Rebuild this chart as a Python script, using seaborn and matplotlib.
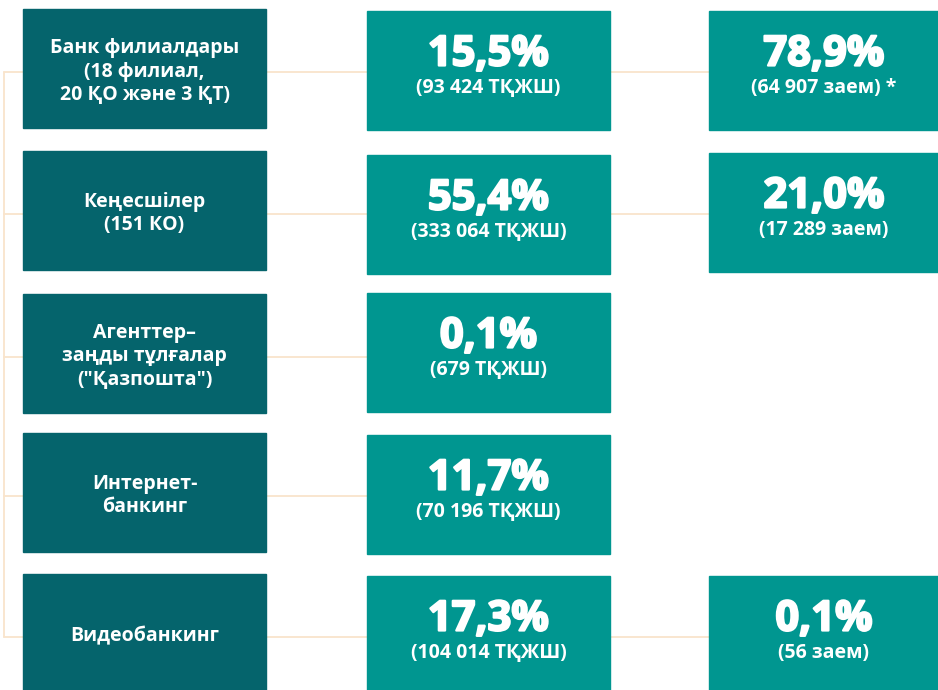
import matplotlib.pyplot as plt
import seaborn as sns
from matplotlib.patches import Rectangle
import matplotlib.patheffects as pe

# data
channels = [
    'Банк филиалдары\n(18 филиал,\n20 ҚО және 3 ҚТ)',
    'Кеңесшілер\n(151 КО)',
    'Агенттер–\nзаңды тұлғалар\n("Қазпошта")',
    'Интернет-\nбанкинг',
    'Видеобанкинг',
]
client_share = [15.5, 55.4, 0.1, 11.7, 17.3]
clients = [93424, 333064, 679, 70196, 104014]
loan_share = [78.9, 21.0, None, None, 0.1]
loans = [64907, 17289, None, None, 56]
loan_notes = [' *', '', '', '', '']

# layout (pixels)
left_top = [9, 151, 294, 433, 574]
mid_top = [11, 155, 293, 435, 576]
right_top = [11, 153, None, None, 576]
box_h = 119
left_x, mid_x, right_x = 23, 367, 709
box_w, right_w = 243, 232

dark = '#05646c'
teal = '#009690'
line_c = '#f9e4cc'

sns.set_style('white')
plt.rcParams['font.family'] = ['Open Sans', 'DejaVu Sans']

fig = plt.figure(figsize=(9.38, 6.9), dpi=100)
ax = fig.add_axes([0, 0, 1, 1])
ax.set_xlim(0, 938)
ax.set_ylim(690, 0)
ax.axis('off')

heavy = [pe.withStroke(linewidth=1.6, foreground='white')]
big = dict(color='white', fontsize=30, fontweight='bold', ha='center', va='center',
           zorder=3, path_effects=heavy)
small = dict(color='white', fontsize=14, fontweight='bold', ha='center', va='center', zorder=3)


def fmt_pct(v):
    return f'{v:.1f}%'.replace('.', ',')


def fmt_num(n):
    return f'{n:,}'.replace(',', ' ')


# left bracket connecting all channels
centers = [t + box_h / 2 for t in left_top]
ax.plot([3.5, 3.5], [centers[0] + 3, centers[-1] + 3], color=line_c, lw=1.3, zorder=1)

for i, label in enumerate(channels):
    cy = centers[i] + 3
    ax.plot([3.5, left_x], [cy, cy], color=line_c, lw=1.3, zorder=1)
    ax.plot([left_x + box_w, mid_x], [cy, cy], color=line_c, lw=1.3, zorder=1)
    ax.add_patch(Rectangle((left_x, left_top[i]), box_w, box_h, color=dark, zorder=2))
    ax.text(left_x + box_w / 2, left_top[i] + box_h / 2 + 3, label, linespacing=1.25, **small)

    mt = mid_top[i]
    ax.add_patch(Rectangle((mid_x, mt), box_w, box_h, color=teal, zorder=2))
    ax.text(mid_x + box_w / 2, mt + 44, fmt_pct(client_share[i]), **big)
    ax.text(mid_x + box_w / 2, mt + 77, f'({fmt_num(clients[i])} ТҚЖШ)', **small)

    if loan_share[i] is not None:
        rt = right_top[i]
        ax.plot([mid_x + box_w, right_x], [cy, cy], color=line_c, lw=1.3, zorder=1)
        ax.add_patch(Rectangle((right_x, rt), right_w, box_h, color=teal, zorder=2))
        ax.text(right_x + 115, rt + 44, fmt_pct(loan_share[i]), **big)
        ax.text(right_x + 115, rt + 77, f'({fmt_num(loans[i])} заем){loan_notes[i]}', **small)

fig.savefig('out.png', dpi=100)
